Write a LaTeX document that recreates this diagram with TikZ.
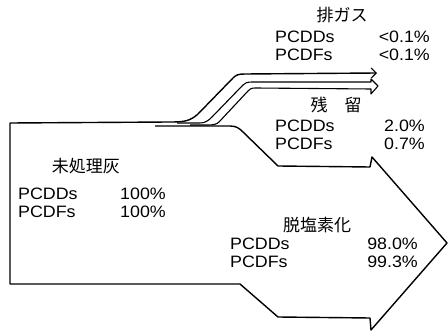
\documentclass[tikz,border=0pt]{standalone}
\usepackage{fontspec}
\setmainfont{Liberation Sans}[FakeStretch=1.08]
\newfontfamily\jp{Noto Sans CJK JP}
\usetikzlibrary{arrows.meta}
\begin{document}
\begin{tikzpicture}[x=1pt,y=-1pt,
  outline/.style={draw=black,line width=1.4pt,line join=round},
  gas/.style={draw=black,line width=1.1pt,line join=round},
  lab/.style={anchor=base west,inner sep=0pt,font=\fontsize{16.5}{17}\selectfont},
  val/.style={anchor=base east,inner sep=0pt,font=\fontsize{16.5}{17}\selectfont},
  vall/.style={anchor=base west,inner sep=0pt,font=\fontsize{16.5}{17}\selectfont},
  ttl/.style={anchor=center,inner sep=0pt,font=\jp\fontsize{17}{17}\selectfont}]
\useasboundingbox (0,0) rectangle (448,331);
% main flow with top edge continuing into the exhaust-gas line
\draw[outline,-{Straight Barb[length=5pt,width=10pt,line width=1.1pt]}]
  (155,126) -- (230,126) .. controls (236,126) and (239,128) .. (243,132)
  -- (278,166) -- (370,167) -- (372,157) -- (447,243) -- (371,330)
  -- (370,318) -- (278,317) -- (240,284) -- (10,284) -- (10,123)
  -- (170,122) .. controls (185,122) and (190,121) .. (198,114)
  -- (233,78) .. controls (236,75) and (238,74) .. (245,74) -- (377,73);
% exhaust gas band (hollow arrow)
\draw[gas] (177,123) -- (200,123) .. controls (205,123) and (208,121) .. (212,117)
  -- (243,85) .. controls (245,83) and (247,82) .. (252,82) -- (371,82)
  -- (371,79) -- (378,86) -- (371,94) -- (371,89) -- (255,88)
  .. controls (251,88) and (250,89) .. (248,91) -- (219,122)
  .. controls (217,124) and (214,125) .. (208,125) -- (190,125);
% exhaust gas
\node[ttl] (tgas) at (342,15.5) {排ガス};
\node[lab] (g1) at (275,43) {PCDDs};
\node[lab] (g2) at (275,61) {PCDFs};
\node[val] (g1v) at (430,43) {<0.1\%};
\node[val] (g2v) at (430,61) {<0.1\%};
% residue
\node[ttl] (tres) at (336,105) {残　留};
\node[lab] (r1) at (275,132) {PCDDs};
\node[lab] (r2) at (275,150) {PCDFs};
\node[val] (r1v) at (425,132) {2.0\%};
\node[val] (r2v) at (425,150) {0.7\%};
% untreated ash
\node[ttl] (tash) at (86,166.5) {未処理灰};
\node[lab] (a1) at (18,200) {PCDDs};
\node[lab] (a2) at (18,218) {PCDFs};
\node[vall] (a1v) at (120,200) {100\%};
\node[vall] (a2v) at (120,218) {100\%};
% dechlorination
\node[ttl] (tdec) at (317,225) {脱塩素化};
\node[lab] (d1) at (230,250) {PCDDs};
\node[lab] (d2) at (230,268) {PCDFs};
\node[val] (d1v) at (418,250) {98.0\%};
\node[val] (d2v) at (418,268) {99.3\%};
\end{tikzpicture}
\end{document}
